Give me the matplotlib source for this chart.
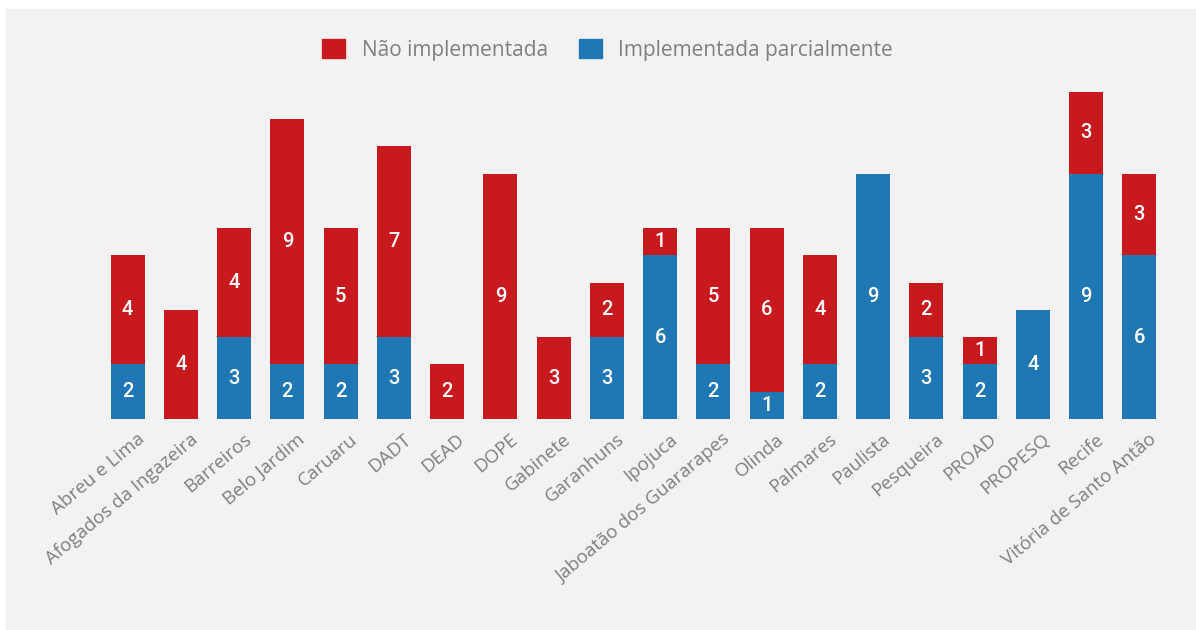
import matplotlib.pyplot as plt
import matplotlib.transforms as mtrans
import numpy as np
from matplotlib.patches import Patch

# situação por unidade
unidades = ["Abreu e Lima", "Afogados da Ingazeira", "Barreiros", "Belo Jardim",
            "Caruaru", "DADT", "DEAD", "DOPE", "Gabinete", "Garanhuns", "Ipojuca",
            "Jaboatão dos Guararapes", "Olinda", "Palmares", "Paulista", "Pesqueira",
            "PROAD", "PROPESQ", "Recife", "Vitória de Santo Antão"]
parcial = [2, 0, 3, 2, 2, 3, 0, 0, 0, 3, 6, 2, 1, 2, 9, 3, 2, 4, 9, 6]
nao_impl = [4, 4, 4, 9, 5, 7, 2, 9, 3, 2, 1, 5, 6, 4, 0, 2, 1, 0, 3, 3]

RED = "#c8191e"
BLUE = "#1f78b4"
BG = "#f2f2f2"
GRAY = "#7f7f7f"

plt.rcParams['font.family'] = ['Open Sans', 'DejaVu Sans']

fig = plt.figure(figsize=(11.96, 6.3), dpi=100)
# painel cinza
fig.patches.append(plt.Rectangle((6 / 1196, 0), 1189 / 1196, 621 / 630,
                                 transform=fig.transFigure, color=BG, zorder=-10))

ax = fig.add_axes([101 / 1196, 211 / 630, 1065 / 1196, 339 / 630])
ax.set_facecolor("none")

x = np.arange(len(unidades))
w = 0.64
ax.bar(x, parcial, w, color=BLUE, zorder=2)
ax.bar(x, nao_impl, w, bottom=parcial, color=RED, zorder=2)

vfont = dict(ha="center", va="center", color="white", fontsize=14.5,
             fontweight="medium", family=["Roboto", "DejaVu Sans"])
for i in range(len(unidades)):
    if parcial[i] > 0:
        ax.text(x[i], parcial[i] / 2, str(parcial[i]), **vfont)
    if nao_impl[i] > 0:
        ax.text(x[i], parcial[i] + nao_impl[i] / 2, str(nao_impl[i]), **vfont)

ax.set_xlim(-0.5, len(unidades) - 0.5)
ax.set_ylim(0, 12.44)
ax.set_yticks([])
ax.set_xticks(x)
ax.set_xticklabels(unidades, rotation=40, ha="right", rotation_mode="anchor",
                   color=GRAY, fontsize=13.5)
ax.tick_params(axis="x", length=0, pad=8)
shift = mtrans.ScaledTranslation(9 / 100, 0, fig.dpi_scale_trans)
for lab in ax.get_xticklabels():
    lab.set_transform(lab.get_transform() + shift)
for s in ax.spines.values():
    s.set_visible(False)

handles = [Patch(color=RED, label="Não implementada"),
           Patch(color=BLUE, label="Implementada parcialmente")]
fig.legend(handles=handles, loc="center", bbox_to_anchor=(0.508, 1 - 50 / 630),
           ncol=2, frameon=False, fontsize=15, handlelength=1.1, handleheight=1.0,
           handletextpad=0.8, columnspacing=1.5, labelcolor=GRAY)

fig.savefig("out.png", dpi=100, facecolor="white")
